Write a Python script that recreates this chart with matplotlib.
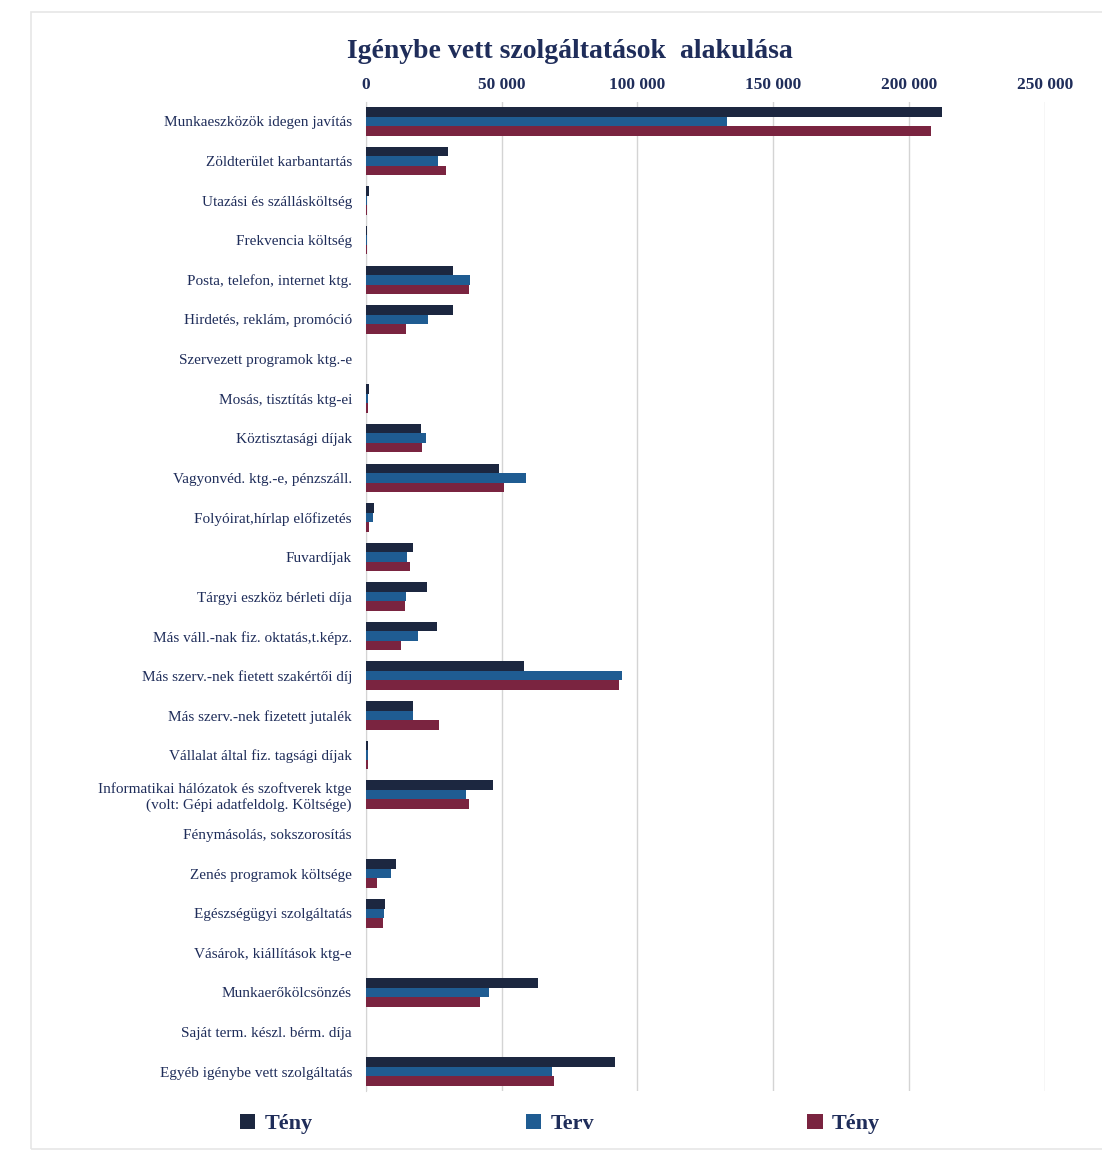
import numpy as np
import matplotlib
matplotlib.use("Agg")
import matplotlib.pyplot as plt

plt.rcParams['font.family'] = ['Liberation Serif', 'DejaVu Serif']

categories = [
    "Munkaeszközök idegen javítás",
    "Zöldterület karbantartás",
    "Utazási és szállásköltség",
    "Frekvencia költség",
    "Posta, telefon, internet ktg.",
    "Hirdetés, reklám, promóció",
    "Szervezett programok ktg.-e",
    "Mosás, tisztítás ktg-ei",
    "Köztisztasági díjak",
    "Vagyonvéd. ktg.-e, pénzszáll.",
    "Folyóirat,hírlap előfizetés",
    "Fuvardíjak",
    "Tárgyi eszköz bérleti díja",
    "Más váll.-nak fiz. oktatás,t.képz.",
    "Más szerv.-nek fietett szakértői díj",
    "Más szerv.-nek fizetett jutalék",
    "Vállalat által fiz. tagsági díjak",
    "Informatikai hálózatok és szoftverek ktge\n(volt: Gépi adatfeldolg. Költsége)",
    "Fénymásolás, sokszorosítás",
    "Zenés programok költsége",
    "Egészségügyi szolgáltatás",
    "Vásárok, kiállítások ktg-e",
    "Munkaerőkölcsönzés",
    "Saját term. készl. bérm. díja",
    "Egyéb igénybe vett szolgáltatás",
]

teny_prev = [212000, 30400, 1000, 500, 32000, 32000, 0, 1000, 20400, 48900,
             3000, 17400, 22600, 26300, 58100, 17400, 800, 47000, 0, 11100,
             7000, 0, 63300, 0, 91900]
terv = [133000, 26700, 600, 400, 38500, 23000, 0, 800, 22200, 58900,
        2500, 15200, 14800, 19300, 94400, 17400, 800, 37000, 0, 9300,
        6700, 0, 45200, 0, 68500]
teny = [208000, 29600, 600, 400, 37800, 14800, 0, 800, 20700, 50700,
        1000, 16300, 14400, 13000, 93300, 27000, 800, 38100, 0, 4100,
        6300, 0, 42200, 0, 69300]

series_names = ["Tény", "Terv", "Tény"]
colors = ["#1c2740", "#1f5c92", "#7a2440"]
navy = "#1f2d5a"

fig = plt.figure(figsize=(11.02, 11.55), dpi=100)
ax = fig.add_axes([0.332, 0.055, 0.616, 0.857])

y = np.arange(len(categories))
h = 0.24
for i, (vals, c, name) in enumerate(zip([teny_prev, terv, teny], colors, series_names)):
    ax.barh(y + (i - 1) * h, vals, height=h, color=c, label=name, zorder=3)

ax.set_ylim(len(categories) - 0.5, -0.5)
ax.set_xlim(0, 250000)
ax.set_xticks(np.arange(0, 250001, 50000))
ax.set_xticklabels([f"{v:,}".replace(",", " ") for v in range(0, 250001, 50000)])
ax.xaxis.tick_top()
ax.tick_params(axis='x', length=0, labelsize=12.5, labelcolor=navy, pad=6)
for t in ax.get_xticklabels():
    t.set_fontweight('bold')
ax.set_yticks(y)
ax.set_yticklabels(categories, fontsize=11, color=navy)
ax.tick_params(axis='y', length=0, pad=10)
ax.grid(axis='x', color='#d4d4d4', linewidth=1, zorder=0)
for s in ['top', 'right', 'bottom']:
    ax.spines[s].set_visible(False)
ax.spines['left'].set_color('#d4d4d4')

fig.text(0.517, 0.955, "Igénybe vett szolgáltatások  alakulása", ha='center', va='center',
         fontsize=20, fontweight='bold', color=navy)

leg = fig.legend(loc='center', bbox_to_anchor=(0.508, 0.027), ncol=3, frameon=False,
                 columnspacing=9.6, handlelength=0.7, handleheight=0.7, handletextpad=0.4,
                 prop={'size': 16, 'weight': 'bold'})
for t in leg.get_texts():
    t.set_color(navy)

fig.patches.append(plt.Rectangle((0.028, 0.005), 0.975, 0.985, transform=fig.transFigure,
                                 fill=False, edgecolor='#e6e6e6', linewidth=1.2))

fig.savefig("out.png", dpi=100)
